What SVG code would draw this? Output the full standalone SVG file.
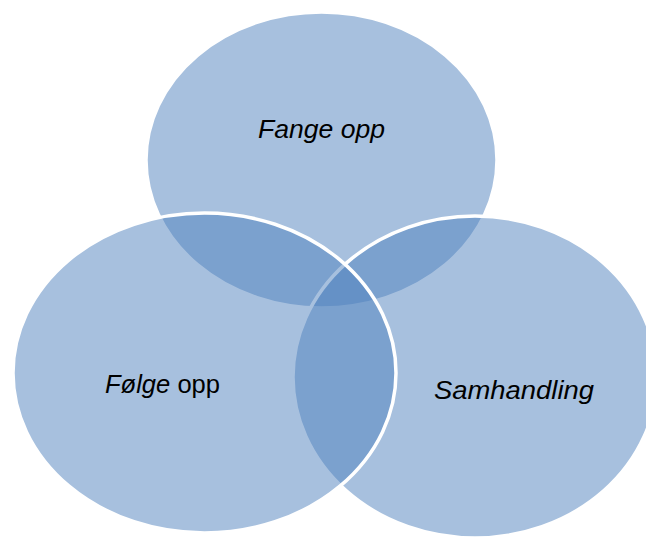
<svg xmlns="http://www.w3.org/2000/svg" width="646" height="539" viewBox="0 0 646 539">
  <style>
    .c { fill: #4F81BD; fill-opacity: 0.5; stroke: #FFFFFF; stroke-width: 3.5; }
    .t { font-family: "Liberation Sans", Arial, sans-serif; font-size: 26px; fill: #000000; }
    .i { font-style: italic; }
  </style>
  <rect x="0" y="0" width="646" height="539" fill="#FFFFFF"/>
  <g id="node-fange-opp">
    <ellipse class="c" cx="321.5" cy="160" rx="175.5" ry="148"/>
    <text class="t i" x="258" y="137.5" textLength="127" lengthAdjust="spacingAndGlyphs">Fange opp</text>
  </g>
  <g id="node-samhandling">
    <ellipse class="c" cx="475" cy="377" rx="182" ry="161"/>
    <text class="t i" x="434" y="399" textLength="160" lengthAdjust="spacingAndGlyphs">Samhandling</text>
  </g>
  <g id="node-folge-opp">
    <ellipse class="c" cx="204.5" cy="373" rx="191.5" ry="160"/>
    <text class="t" x="105" y="392.5" textLength="115" lengthAdjust="spacingAndGlyphs"><tspan class="i">Følge</tspan> opp</text>
  </g>
  <g id="connectors"/>
</svg>
